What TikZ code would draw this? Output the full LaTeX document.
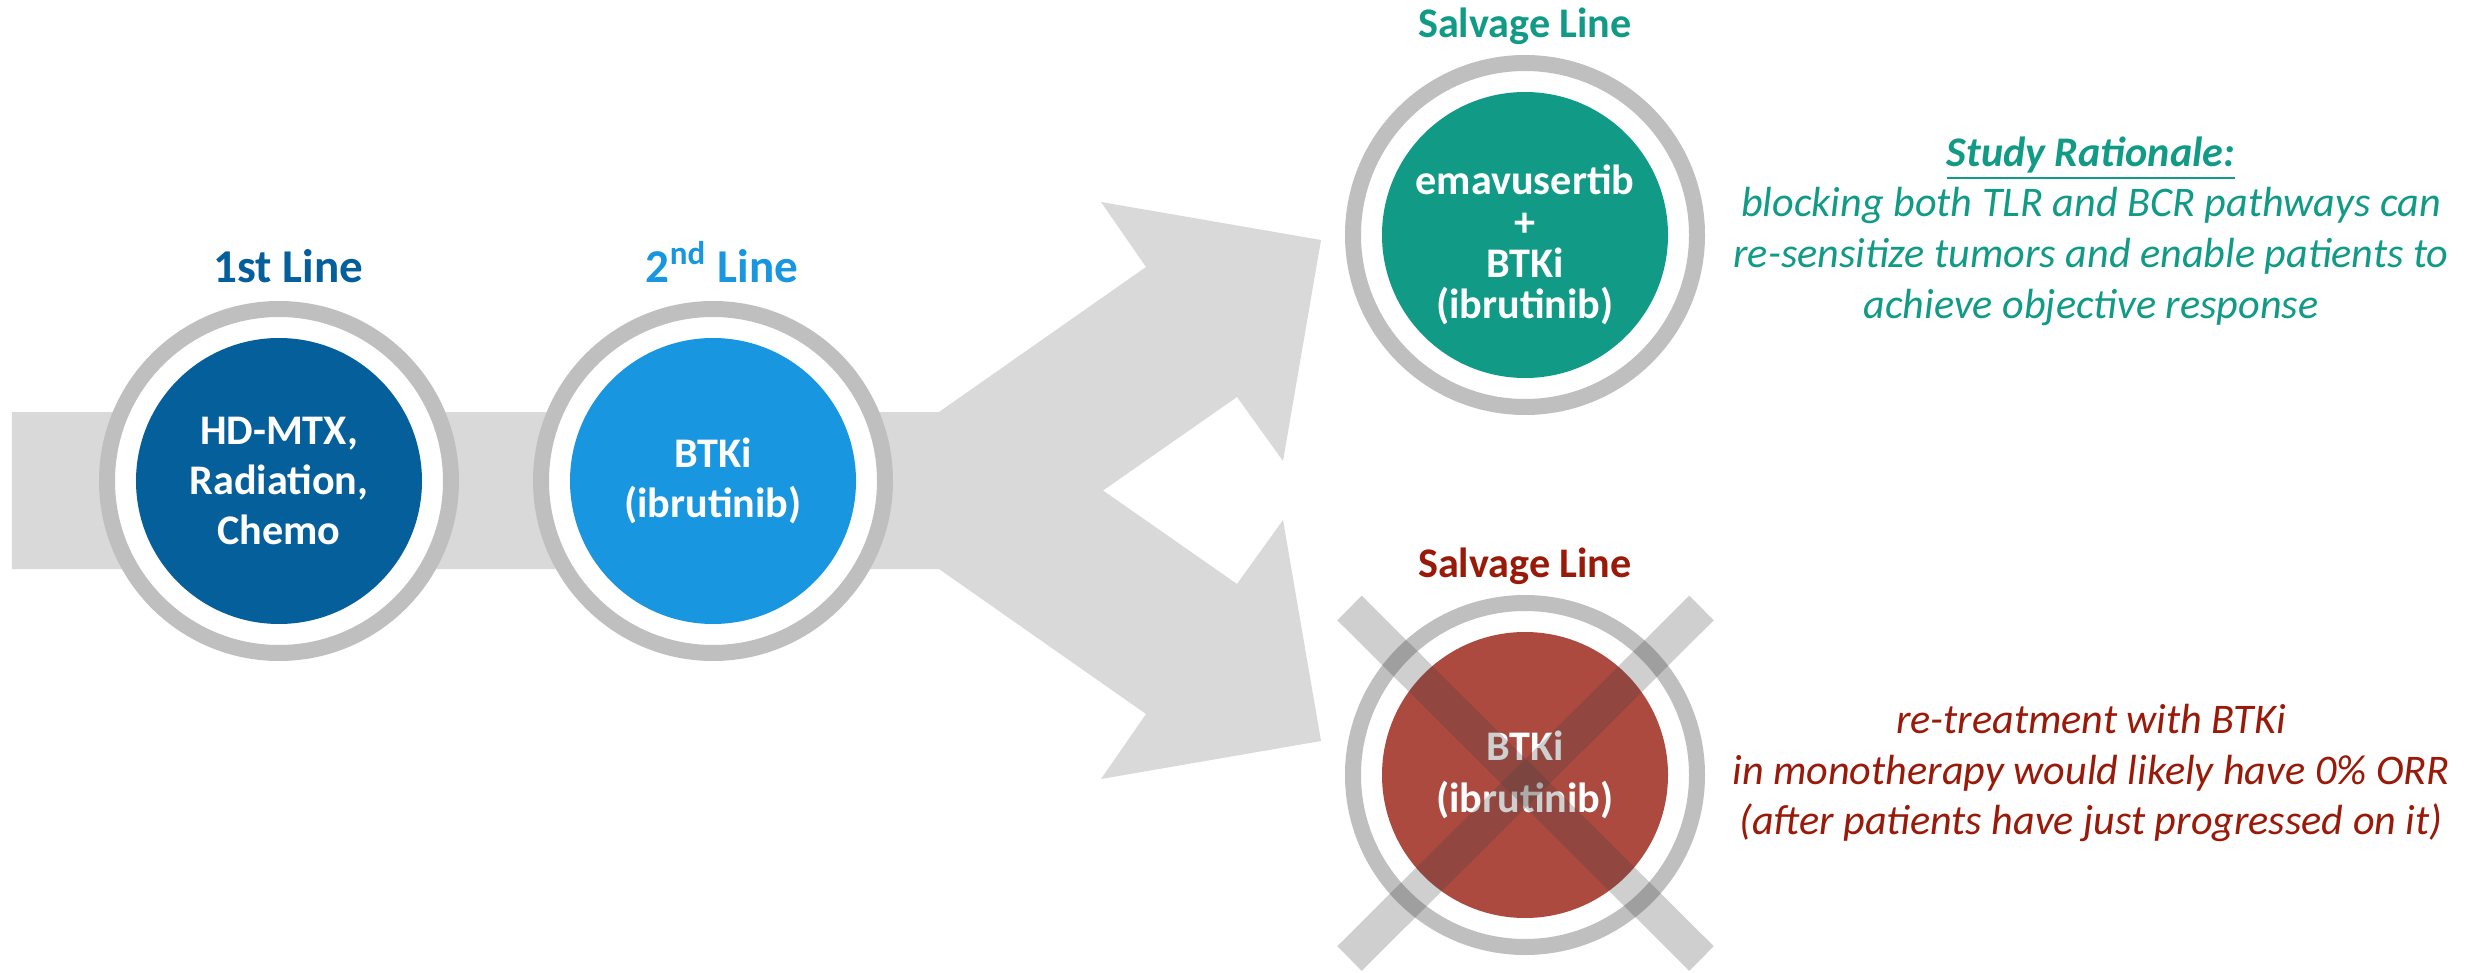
\documentclass[tikz,border=0pt]{standalone}
\usepackage{fontspec}
\setmainfont{Carlito}

\definecolor{lineone}{HTML}{045F9B}
\definecolor{linetwo}{HTML}{1996E0}
\definecolor{salvgreen}{HTML}{119B86}
\definecolor{salvred}{HTML}{AD4A3F}
\definecolor{notered}{HTML}{9A1A0A}
\definecolor{ringgray}{HTML}{BFBFBF}
\definecolor{bandgray}{HTML}{D9D9D9}

% no lineskip glue, so a small baselineskip really packs the lines
\newcommand{\tightlines}{\lineskiplimit=-\maxdimen\relax}

\tikzset{
	ring/.style={draw=ringgray, line width=0.16cm, fill=white},
	disc/.style={circle, minimum size=2.86cm, inner sep=0pt, text=white, align=center,
		font=\bfseries\fontsize{12}{14.2}\selectfont},
	disctext/.style={text=white, align=center, font=\bfseries\fontsize{12}{11.7}\selectfont\tightlines},
	linetitle/.style={anchor=base, font=\bfseries\fontsize{13.4}{16}\selectfont},
	salvtitle/.style={anchor=base, font=\bfseries\fontsize{12}{14}\selectfont},
	note/.style={align=center, font=\itshape\fontsize{12}{14.4}\selectfont},
	crossbar/.style={line width=0.347cm, draw=black!75, draw opacity=0.25}
}

\begin{document}
\begin{tikzpicture}
	\path[use as bounding box, fill=white] (0,0) rectangle (24.76,9.72);
	
	% grey band splitting into the two salvage arrows
	\fill[bandgray] (0.12,5.60) -- (9.39,5.60) -- (11.46,7.05) -- (11.01,7.70) -- (13.21,7.32)
		-- (12.83,5.11) -- (12.37,5.75) -- (11.03,4.815) -- (12.37,3.88) -- (12.83,4.52)
		-- (13.21,2.31) -- (11.01,1.93) -- (11.46,2.58) -- (9.39,4.03) -- (0.12,4.03) -- cycle;
	
	\coordinate (c1) at (2.79,4.91);
	\coordinate (c2) at (7.13,4.91);
	\coordinate (c3) at (15.25,7.37);
	\coordinate (c4) at (15.25,1.97);
	
	\draw[ring] (c1) circle (1.72);
	\draw[ring] (c2) circle (1.72);
	\draw[ring] (c3) circle (1.72);
	\draw[ring] (c4) circle (1.72);
	
	\node[disc, fill=lineone] (first) at (c1) {HD-MTX,\\Radiation,\\Chemo};
	\node[disc, fill=linetwo] (second) at (c2) {BTKi\\(ibrutinib)};
	\node[disc, fill=salvgreen] (combo) at (c3) {};
	\node[disctext] (combotext) at ([yshift=-0.1cm]combo.center) {emavusertib\\+\\BTKi\\(ibrutinib)};
	\node[disc, fill=salvred, font=\bfseries\fontsize{12}{14.7}\selectfont] (mono) at (c4)
		{BTKi\\(ibrutinib)};
	
	\node[linetitle, text=lineone] (firsttitle) at (2.885,6.89) {1st Line};
	\node[linetitle, text=linetwo] (secondtitle) at (7.22,6.89) {2\textsuperscript{nd} Line};
	\node[salvtitle, text=salvgreen] (combotitle) at (15.25,9.34) {Salvage Line};
	\node[salvtitle, text=notered] (monotitle) at (15.25,3.95) {Salvage Line};
	
	\node[note, text=salvgreen] (rationale) at (20.91,7.41)
		{{\bfseries\underline{Study Rationale:}}\\blocking both TLR and BCR pathways can\\
		re-sensitize tumors and enable patients to\\achieve objective response};
	\node[note, text=notered] (retreat) at (20.91,1.99)
		{re-treatment with BTKi\\in monotherapy would likely have 0\% ORR\\
		(after patients have just progressed on it)};
	
	% strike out the monotherapy option
	\coordinate (nogo) at (15.255,1.8875);
	\draw[crossbar] ([shift={(-1.76,1.7525)}]nogo) -- ([shift={(1.76,-1.7525)}]nogo);
	\draw[crossbar] ([shift={(-1.76,-1.7525)}]nogo) -- ([shift={(1.76,1.7525)}]nogo);
\end{tikzpicture}
\end{document}
